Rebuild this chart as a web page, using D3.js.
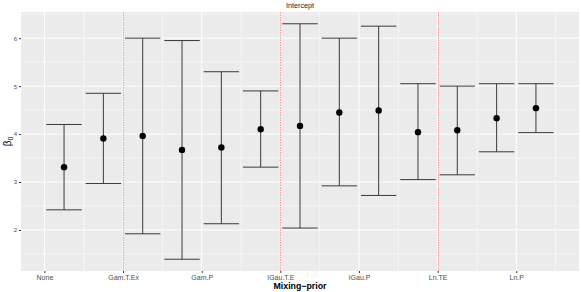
<!DOCTYPE html>
<html>
<head>
<meta charset="utf-8">
<script src="https://cdn.jsdelivr.net/npm/d3@7"></script>
<style>
  body { margin: 0; background: #fff; }
  svg { display: block; font-family: "Liberation Sans", Arial, sans-serif; }
</style>
</head>
<body>
<div id="chart"></div>
<script>
// tick labels on the x axis (at 0, 2, 4, ... 12)
const tickLabels = ["None", "Gam.T.Ex", "Gam.P", "IGau.T.E", "IGau.P", "Ln.TE", "Ln.P"];
// one error bar per model, at x = 0.5, 1.5, ...
const barPos = [0.5, 1.5, 2.5, 3.5, 4.5, 5.5, 6.5, 7.5, 8.5, 9.5, 10.5, 11.5, 12.5];
const estimate = [3.31, 3.91, 3.96, 3.67, 3.72, 4.10, 4.17, 4.45, 4.49, 4.04, 4.08, 4.33, 4.54];
const lower = [2.42, 2.97, 1.92, 1.39, 2.13, 3.31, 2.04, 2.92, 2.72, 3.05, 3.15, 3.63, 4.03];
const upper = [4.20, 4.85, 6.00, 5.95, 5.30, 4.90, 6.30, 6.00, 6.25, 5.05, 5.00, 5.05, 5.05];
const separators = [2, 6, 10];
const yTicks = [2, 3, 4, 5, 6];

const W = 581, H = 292;
const margin = { top: 12, right: 2, bottom: 21, left: 21 };
const innerW = W - margin.left - margin.right;
const innerH = H - margin.top - margin.bottom;

const rows = barPos.map((x, i) => ({ x, est: estimate[i], lo: lower[i], hi: upper[i] }));

const svg = d3.select("#chart").append("svg").attr("width", W).attr("height", H);
const g = svg.append("g").attr("transform", `translate(${margin.left},${margin.top})`);

const halfW = 0.45;
const xMin = d3.min(barPos) - halfW, xMax = d3.max(barPos) + halfW;
const xPad = (xMax - xMin) * 0.05;
const x = d3.scaleLinear().domain([xMin - xPad, xMax + xPad]).range([0, innerW]);
const yMin = d3.min(lower), yMax = d3.max(upper);
const yPad = (yMax - yMin) * 0.05;
const y = d3.scaleLinear().domain([yMin - yPad, yMax + yPad]).range([innerH, 0]);

g.append("rect").attr("width", innerW).attr("height", innerH).attr("fill", "#ebebeb");

// grid
const xMinor = d3.range(1, 14, 2);
const xMajor = tickLabels.map((_, i) => i * 2);
const yMinor = d3.range(1.5, 7, 1).filter((v) => y(v) >= 0 && y(v) <= innerH);
g.selectAll(".gx-minor").data(xMinor).join("line")
  .attr("x1", (d) => x(d)).attr("x2", (d) => x(d)).attr("y1", 0).attr("y2", innerH)
  .attr("stroke", "#fff").attr("stroke-width", 0.5);
g.selectAll(".gy-minor").data(yMinor).join("line")
  .attr("x1", 0).attr("x2", innerW).attr("y1", (d) => y(d)).attr("y2", (d) => y(d))
  .attr("stroke", "#fff").attr("stroke-width", 0.5);
g.selectAll(".gx-major").data(xMajor).join("line")
  .attr("x1", (d) => x(d)).attr("x2", (d) => x(d)).attr("y1", 0).attr("y2", innerH)
  .attr("stroke", "#fff").attr("stroke-width", 1);
g.selectAll(".gy-major").data(yTicks).join("line")
  .attr("x1", 0).attr("x2", innerW).attr("y1", (d) => y(d)).attr("y2", (d) => y(d))
  .attr("stroke", "#fff").attr("stroke-width", 1);

// separators (dotted red)
const sepX = (d) => Math.round(x(d) + margin.left) - margin.left + 0.5;
g.selectAll(".sep").data(separators).join("line")
  .attr("x1", sepX).attr("x2", sepX)
  .attr("y1", 0).attr("y2", innerH)
  .attr("stroke", "#ff9a9a").attr("stroke-width", 1).attr("stroke-dasharray", "1.5 1");

// error bars
const bar = g.selectAll(".bar").data(rows).join("g").attr("class", "bar");
const barColor = "#3a3a3a";
bar.append("line")
  .attr("x1", (d) => x(d.x)).attr("x2", (d) => x(d.x))
  .attr("y1", (d) => y(d.lo)).attr("y2", (d) => y(d.hi))
  .attr("stroke", barColor).attr("stroke-width", 1);
bar.append("line")
  .attr("x1", (d) => x(d.x - halfW)).attr("x2", (d) => x(d.x + halfW))
  .attr("y1", (d) => y(d.hi)).attr("y2", (d) => y(d.hi))
  .attr("stroke", barColor).attr("stroke-width", 1);
bar.append("line")
  .attr("x1", (d) => x(d.x - halfW)).attr("x2", (d) => x(d.x + halfW))
  .attr("y1", (d) => y(d.lo)).attr("y2", (d) => y(d.lo))
  .attr("stroke", barColor).attr("stroke-width", 1);
bar.append("circle")
  .attr("cx", (d) => x(d.x)).attr("cy", (d) => y(d.est)).attr("r", 3.2)
  .attr("fill", "#000");

// axes
const yAxis = g.append("g")
  .call(d3.axisLeft(y).tickValues(yTicks).tickSize(2).tickPadding(2).tickFormat(d3.format("d")));
yAxis.select(".domain").remove();
yAxis.selectAll("line").attr("stroke", "#333");
yAxis.selectAll("text").attr("fill", "#4d4d4d").attr("font-size", "6px");

const xAxis = g.append("g").attr("transform", `translate(0,${innerH})`)
  .call(d3.axisBottom(x).tickValues(xMajor).tickSize(2).tickPadding(2)
    .tickFormat((d, i) => tickLabels[i]));
xAxis.select(".domain").remove();
xAxis.selectAll("line").attr("stroke", "#333");
xAxis.selectAll("text").attr("fill", "#4d4d4d").attr("font-size", "7px");

// titles
svg.append("text")
  .attr("x", margin.left + innerW / 2).attr("y", 8)
  .attr("text-anchor", "middle").attr("font-size", "7.2px").attr("fill", "#222")
  .text("Intercept");

svg.append("text")
  .attr("x", margin.left + innerW / 2).attr("y", 289)
  .attr("text-anchor", "middle").attr("font-size", "8.8px").attr("font-weight", "bold")
  .attr("fill", "#000")
  .text("Mixing\u2212prior");

const yl = svg.append("text")
  .attr("transform", `translate(11,${margin.top + innerH / 2}) rotate(-90)`)
  .attr("text-anchor", "middle").attr("font-size", "10px").attr("fill", "#000");
yl.append("tspan").text("β");
yl.append("tspan").attr("font-size", "7px").attr("dy", "2").text("0");
</script>
</body>
</html>
